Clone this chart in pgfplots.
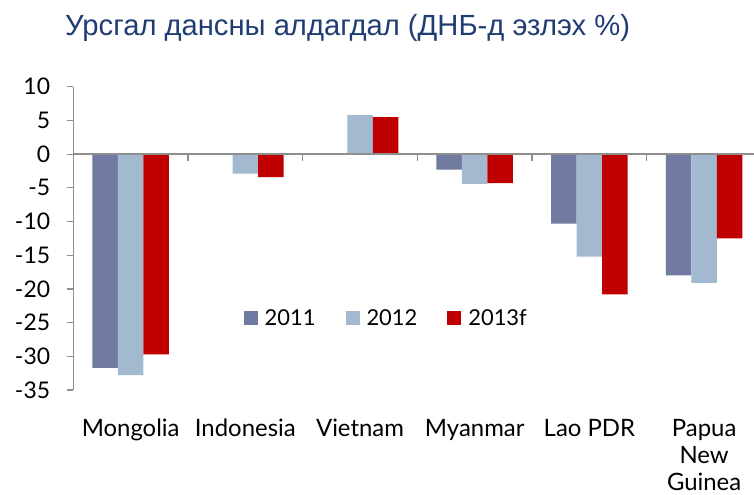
\documentclass[border=0pt]{standalone}
\usepackage{fontspec}
\setmainfont{Lato}
\newfontfamily\titlefont{Liberation Sans}
\usepackage{pgfplots}
\pgfplotsset{compat=1.18}
\definecolor{c11}{HTML}{717AA0}
\definecolor{c12}{HTML}{A3B9CF}
\definecolor{c13}{HTML}{C00000}
\definecolor{tblue}{HTML}{1F3D73}
\definecolor{axgray}{HTML}{8F8F8F}
\begin{document}
\begin{tikzpicture}
\begin{axis}[
  at={(73.3bp,105bp)}, anchor=south west,
  scale only axis, width=680.7bp, height=303.3bp,
  xmin=-0.5, xmax=5.435, ymin=-35, ymax=10,
  ybar=0pt, bar width=25.5bp,
  axis x line*=bottom, axis y line*=left,
  x axis line style={draw=none},
  y axis line style={axgray, line width=1.2bp},
  xtick={0,...,5},
  xticklabels={Mongolia, Indonesia, Vietnam, Myanmar, Lao PDR, {Papua\\New\\Guinea}},
  xticklabel style={align=center, yshift=-19bp, font=\fontsize{24}{27}\selectfont},
  x tick style={draw=none},
  ytick={-35,-30,...,10},
  tick align=outside, major tick length=6.7bp,
  y tick style={axgray, line width=1.2bp},
  yticklabel style={font=\fontsize{23}{26}\selectfont, xshift=-13bp},
  /pgf/number format/assume math mode=true,
  legend columns=3,
  legend style={draw=none, fill=none, at={(0.25,0.237)}, anchor=west, inner sep=0pt,
    font=\fontsize{22}{26}\selectfont,
    /tikz/every odd column/.append style={column sep=5bp},
    /tikz/every even column/.append style={column sep=28bp}},
  legend image code/.code={\fill[#1] (0bp,-7bp) rectangle (14bp,7bp);},
]
\addplot[fill=c11, draw=none] coordinates {(0,-31.7) (1,0.1) (2,0.1) (3,-2.3) (4,-10.3) (5,-18.0)};
\addplot[fill=c12, draw=none] coordinates {(0,-32.8) (1,-2.9) (2,5.8) (3,-4.4) (4,-15.2) (5,-19.1)};
\addplot[fill=c13, draw=none] coordinates {(0,-29.7) (1,-3.4) (2,5.5) (3,-4.3) (4,-20.8) (5,-12.5)};
\legend{2011, 2012, 2013f}
\draw[axgray, line width=1.8bp] (axis cs:-0.5,0) -- (axis cs:5.435,0);
\pgfplotsinvokeforeach{0.5,1.5,2.5,3.5,4.5}{
  \draw[axgray, line width=1.2bp] (axis cs:#1,0) -- ([yshift=-7bp]axis cs:#1,0);
}
\end{axis}
\node[anchor=base west, text=tblue, font=\titlefont\fontsize{29.3}{34}\selectfont, inner sep=0pt] at (65bp,459bp) {Урсгал дансны алдагдал (ДНБ-д эзлэх \%)};
\pgfresetboundingbox
\path[use as bounding box] (0,0) rectangle (754bp,495bp);
\end{tikzpicture}
\end{document}
